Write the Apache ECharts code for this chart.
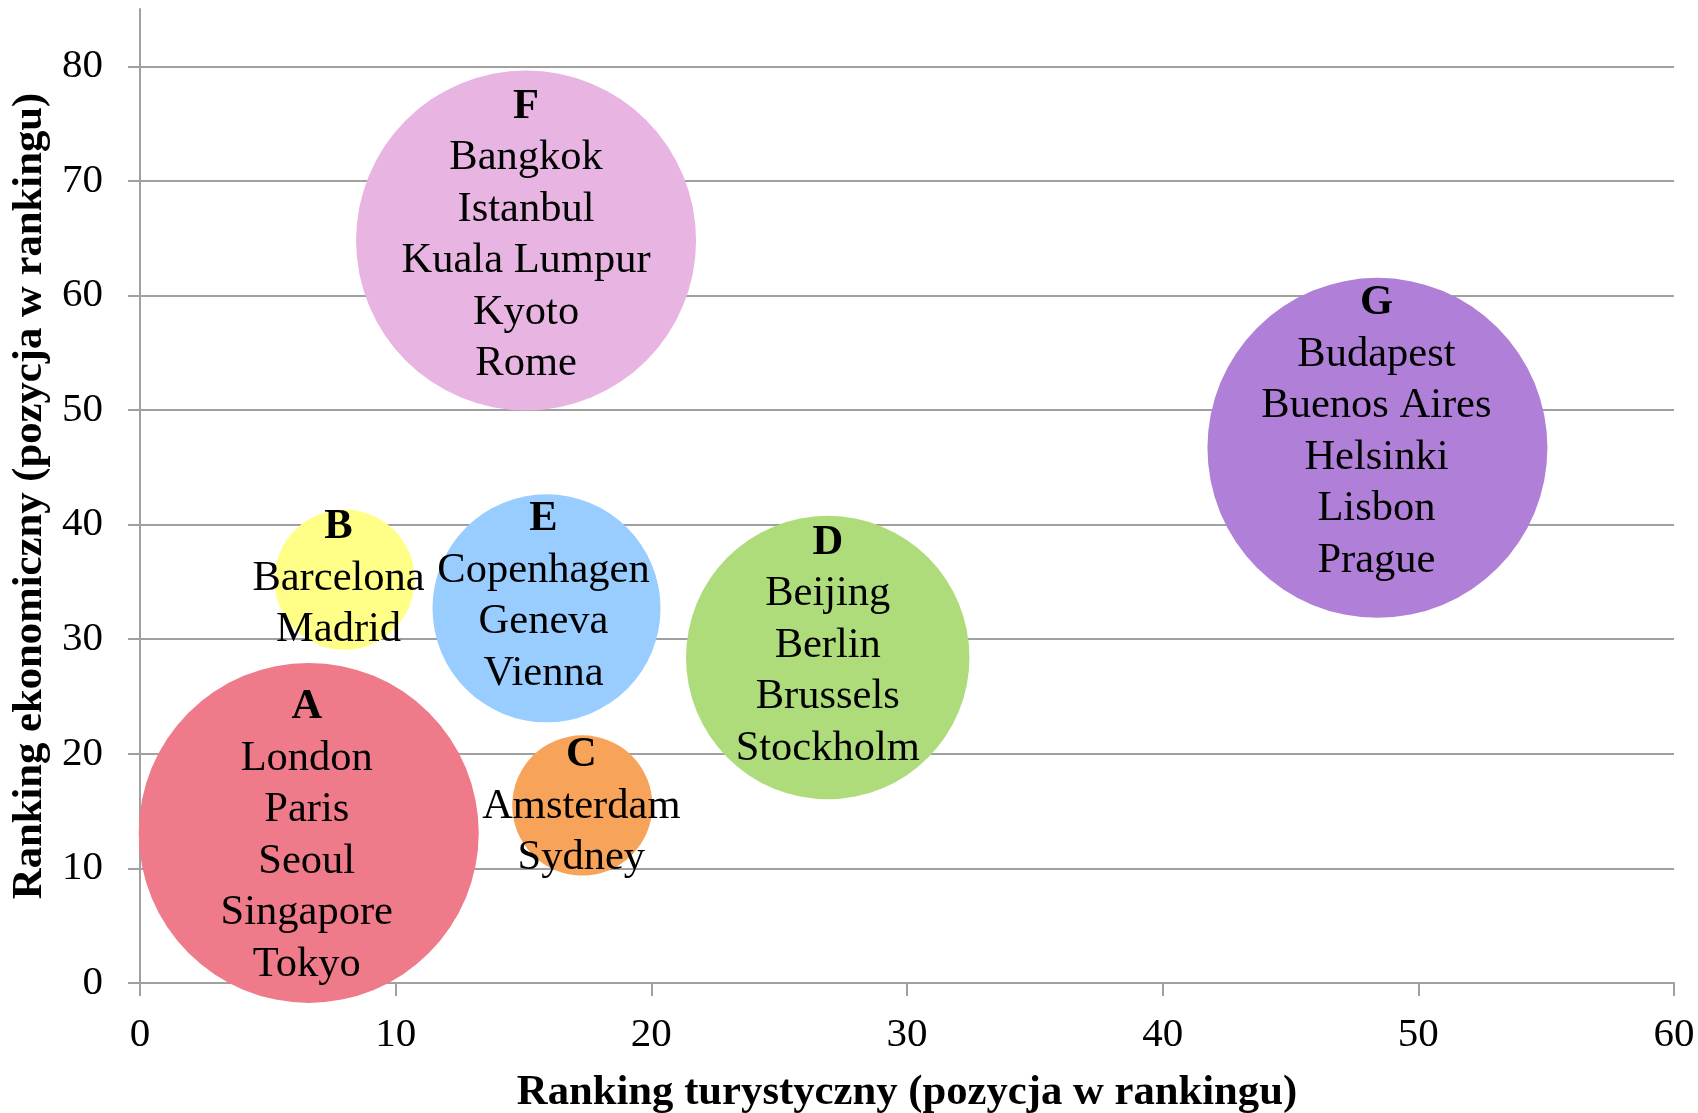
<!DOCTYPE html>
<html>
<head>
<meta charset="utf-8">
<script src="https://cdn.jsdelivr.net/npm/echarts@6/dist/echarts.min.js"></script>
<style>
  html, body { margin: 0; padding: 0; background: #fff; }
  #main { width: 1698px; height: 1113px; }
</style>
</head>
<body>
<div id="main"></div>
<script>
// dane
var groups = ['A', 'B', 'C', 'D', 'E', 'F', 'G'];
var tourismRank = [6.6, 8.0, 17.3, 26.9, 15.9, 15.1, 48.4];
var economicRank = [13.1, 35.2, 15.5, 28.4, 32.7, 64.8, 46.7];
var bubbleSize = [100, 17, 17, 69.5, 45, 100, 100];
var cities = [
    ['London', 'Paris', 'Seoul', 'Singapore', 'Tokyo'],
    ['Barcelona', 'Madrid'],
    ['Amsterdam', 'Sydney'],
    ['Beijing', 'Berlin', 'Brussels', 'Stockholm'],
    ['Copenhagen', 'Geneva', 'Vienna'],
    ['Bangkok', 'Istanbul', 'Kuala Lumpur', 'Kyoto', 'Rome'],
    ['Budapest', 'Buenos Aires', 'Helsinki', 'Lisbon', 'Prague']
];
var xTicks = [0, 60, 10];
var yTicks = [0, 85, 10];

// wyglad
var colors = ['#EE7A8A', '#FFFF88', '#F7A35A', '#AEDC7A', '#99CCFF', '#E8B4E2', '#B07FD8'];
var labelNudge = [[-2, 3], [-6, -1], [-1, 1], [0, -12], [-3, -12], [0, -5], [-1, -16]];
var maxBubble = 340;
var serif = '"Liberation Serif", "Times New Roman", serif';
var gray = '#a0a0a0';

var myChart = echarts.init(document.getElementById('main'));

var maxSize = Math.max.apply(null, bubbleSize);
var data = [];
for (var i = 0; i < groups.length; i++) {
    data.push({
        name: groups[i],
        value: [tourismRank[i], economicRank[i], bubbleSize[i]],
        itemStyle: { color: colors[i] },
        label: { offset: labelNudge[i] }
    });
}

var option = {
    animation: false,
    grid: {
        left: 140,
        right: 24,
        top: 9,
        bottom: 130,
        containLabel: false,
        outerBoundsMode: 'none'
    },
    xAxis: {
        type: 'value',
        min: xTicks[0],
        max: xTicks[1],
        interval: xTicks[2],
        name: 'Ranking turystyczny (pozycja w rankingu)',
        nameLocation: 'middle',
        nameGap: 88,
        nameTextStyle: { fontFamily: serif, fontWeight: 'bold', fontSize: 42.7, color: '#000' },
        axisLine: { show: true, lineStyle: { color: gray, width: 2 } },
        axisTick: { show: true, inside: false, length: 13, lineStyle: { color: gray, width: 2 } },
        axisLabel: { fontFamily: serif, fontSize: 41, color: '#000', margin: 32 },
        splitLine: { show: false }
    },
    yAxis: {
        type: 'value',
        min: yTicks[0],
        max: yTicks[1],
        interval: yTicks[2],
        name: 'Ranking ekonomiczny (pozycja w rankingu)',
        nameLocation: 'middle',
        nameGap: 88,
        nameTextStyle: { fontFamily: serif, fontWeight: 'bold', fontSize: 42.7, color: '#000' },
        axisLine: { show: true, lineStyle: { color: gray, width: 2 } },
        axisTick: { show: true, inside: false, length: 12, lineStyle: { color: gray, width: 2 } },
        axisLabel: { fontFamily: serif, fontSize: 41, color: '#000', margin: 37, showMaxLabel: false },
        splitLine: { show: true, showMaxLine: false, lineStyle: { color: gray, width: 2 } }
    },
    series: [{
        type: 'scatter',
        symbol: 'circle',
        symbolSize: function (val) {
            return maxBubble * Math.sqrt(val[2] / maxSize);
        },
        itemStyle: { opacity: 1 },
        emphasis: { disabled: true },
        label: {
            show: true,
            position: 'inside',
            color: '#000',
            fontFamily: serif,
            formatter: function (p) {
                var idx = p.dataIndex;
                var lines = ['{g|' + groups[idx] + '}'];
                for (var k = 0; k < cities[idx].length; k++) {
                    lines.push('{c|' + cities[idx][k] + '}');
                }
                return lines.join('\n');
            },
            rich: {
                g: { fontFamily: serif, fontWeight: 'bold', fontSize: 42.5, lineHeight: 51.5, color: '#000' },
                c: { fontFamily: serif, fontSize: 42.5, lineHeight: 51.5, color: '#000' }
            }
        },
        data: data
    }]
};

myChart.setOption(option);
</script>
</body>
</html>
